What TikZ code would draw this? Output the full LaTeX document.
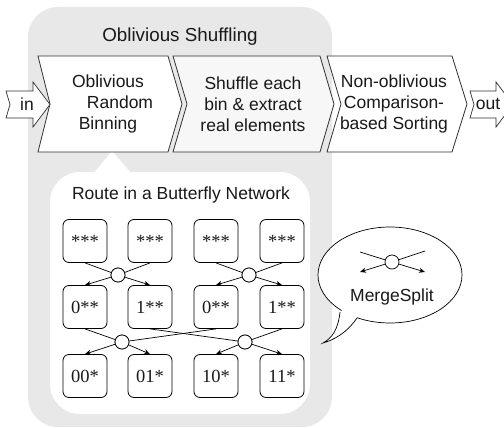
\documentclass[tikz,border=0pt]{standalone}
\usepackage{fontspec}
\setmainfont{Liberation Sans}
\newfontfamily\binfont{Liberation Serif}
\usetikzlibrary{arrows.meta}
\definecolor{panelgray}{HTML}{E8E8E8}
\definecolor{edgegray}{HTML}{303030}
\definecolor{stagefill}{HTML}{F7F7F7}

\begin{document}
\begin{tikzpicture}[x=1pt,y=-1pt,
  every node/.style={font=\fontsize{17.5}{21}\selectfont, text=black!90},
  stage/.style={draw=edgegray, line width=0.8pt, line join=miter},
  ioarrow/.style={draw=edgegray, fill=white, line width=0.7pt, line join=miter},
  bin/.style={draw=black, line width=0.8pt, rounded corners=6pt, fill=white,
    minimum width=44pt, minimum height=43pt, inner sep=0pt,
    font=\binfont\fontsize{18.5}{18.5}\selectfont},
  merge/.style={circle, draw=black, line width=0.7pt, fill=white,
    minimum size=14pt, inner sep=0pt},
  wire/.style={line width=0.7pt, draw=black},
  route/.style={wire, -{Stealth[length=6pt, width=5pt]}},
]
\useasboundingbox (0,0) rectangle (504,428);

% grey frame of the shuffling phase
\fill[panelgray, rounded corners=30pt] (28,7) rectangle (332,427);
\node[font=\fontsize{18.8}{21}\selectfont] (title) at (180,37) {Oblivious Shuffling};

% white detail panel with its pointer
\fill[white, rounded corners=30pt] (50,172) rectangle (310,414);
\fill[white] (93,174) -- (112,151) -- (132,174) -- cycle;

% pipeline stages
\filldraw[stage, fill=white] (38,56) -- (168,56) -- (182,104) -- (168,152)
  -- (38,152) -- (50,104) -- cycle;
\filldraw[stage, fill=stagefill] (173,56) -- (320,56) -- (334,104) -- (320,152)
  -- (173,152) -- (187,104) -- cycle;
\filldraw[stage, fill=white] (327,56) -- (452,56) -- (467,104) -- (452,152)
  -- (327,152) -- (341,104) -- cycle;

\node[align=center] (binning) at (108,104)
  {Oblivious\\\hspace*{24pt}Random\\Binning};
\node[align=center] (shuffle) at (253,104)
  {Shuffle each\\bin \& extract\\real elements};
\node[align=center] (sorting) at (394,104)
  {Non-oblivious\\Comparison-\\based Sorting};

% input and output arrows
\filldraw[ioarrow] (6,91) -- (33,91) -- (33,82) -- (50,104.5) -- (33,127)
  -- (33,118) -- (6,118) -- (10,104.5) -- cycle;
\node (in) at (27,104) {in};
\filldraw[ioarrow] (470,91) -- (496,91) -- (496,82) -- (513,104.5) -- (496,127)
  -- (496,118) -- (470,118) -- (474,104.5) -- cycle;
\node (out) at (488,104) {out};

% butterfly network
\node (route) at (181,195) {Route in a Butterfly Network};

\foreach \c/\x in {1/85,2/150,3/216,4/282}
  \node[bin] (a\c) at (\x,241) {***};
\node[bin] (b1) at (85,307) {0**};
\node[bin] (b2) at (150,307) {1**};
\node[bin] (b3) at (216,307) {0**};
\node[bin] (b4) at (282,307) {1**};
\node[bin] (c1) at (85,376) {00*};
\node[bin] (c2) at (150,376) {01*};
\node[bin] (c3) at (216,376) {10*};
\node[bin] (c4) at (282,376) {11*};

\node[merge] (m1) at (118,275) {};
\node[merge] (m2) at (249,275) {};
\node[merge] (n1) at (122,342) {};
\node[merge] (n2) at (245,342) {};

\draw[wire] (a1.south) -- (m1);
\draw[wire] (a2.south) -- (m1);
\draw[route] (m1) -- (b1.north);
\draw[route] (m1) -- (b2.north);
\draw[wire] (a3.south) -- (m2);
\draw[wire] (a4.south) -- (m2);
\draw[route] (m2) -- (b3.north);
\draw[route] (m2) -- (b4.north);

\draw[wire] (b1.south) -- (n1);
\draw[wire] (b3.south) -- (n1);
\draw[route] (n1) -- (c1.north);
\draw[route] (n1) -- (c2.north);
\draw[wire] (b2.south) -- (n2);
\draw[wire] (b4.south) -- (n2);
\draw[route] (n2) -- (c3.north);
\draw[route] (n2) -- (c4.north);

\node[merge] at (m1) {};
\node[merge] at (m2) {};
\node[merge] at (n1) {};
\node[merge] at (n2) {};

% speech bubble explaining one merge-split step
\draw[line width=0.7pt, fill=white] (390,275) ellipse [x radius=72pt, y radius=48pt];
\fill[white] (340,312) .. controls (338,330) and (332,338) .. (323,343)
  .. controls (340,338) and (350,328) .. (357,318) -- (352,302) -- cycle;
\draw[line width=0.7pt] (340,312) .. controls (338,330) and (332,338) .. (323,343)
  .. controls (340,338) and (350,328) .. (357,318);

\node[merge] (ms) at (392,262) {};
\coordinate (inl) at (360,252);
\coordinate (inr) at (425,251);
\coordinate (outl) at (360,272);
\coordinate (outr) at (425,272);
\draw[wire] (inl) -- (ms);
\draw[wire] (inr) -- (ms);
\draw[route] (ms) -- (outl);
\draw[route] (ms) -- (outr);
\node (mergesplit) at (392,297) {MergeSplit};
\end{tikzpicture}
\end{document}
